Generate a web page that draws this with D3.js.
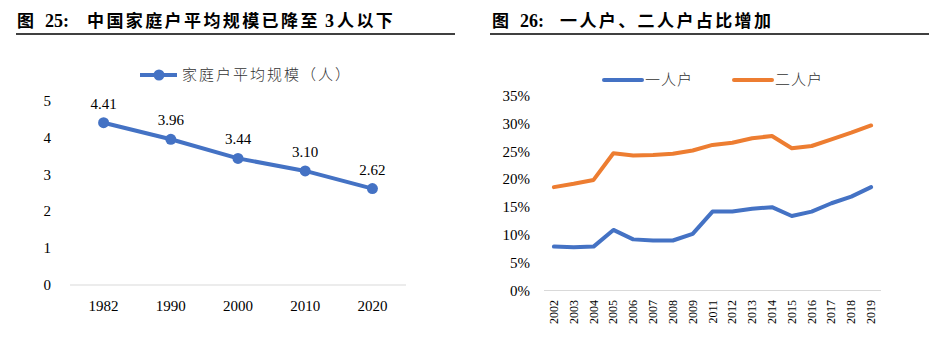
<!DOCTYPE html>
<html><head><meta charset="utf-8">
<script src="https://cdn.jsdelivr.net/npm/d3@7"></script>
<style>
body{margin:0;background:#fff;}
svg{display:block;}
</style></head>
<body>
<svg id="c" width="937" height="341"></svg>
<script>
// Left chart data
const leftYears = ["1982","1990","2000","2010","2020"];
const householdSize = [4.41, 3.96, 3.44, 3.10, 2.62];
const leftTicks = [0,1,2,3,4,5];
// Right chart data
const rightYears = ["2002","2003","2004","2005","2006","2007","2008","2009","2011","2012","2013","2014","2015","2016","2017","2018","2019"];
const onePerson = [7.9,7.8,7.9,10.9,9.2,9.0,9.0,10.2,14.2,14.2,14.7,15.0,13.4,14.2,15.7,16.9,18.6];
const twoPerson = [18.6,19.2,19.9,24.7,24.3,24.4,24.6,25.2,26.2,26.6,27.4,27.8,25.6,26.0,27.2,28.4,29.7];
const rightTicks = [0,5,10,15,20,25,30,35];

const svg = d3.select("#c");
const serif = "'Liberation Serif','Times New Roman',serif";
const cjk = "'Noto Sans CJK SC',sans-serif";
const blue = "#4472C4", orange = "#ED7D31";

// Titles: parts = [text, x, isSerif]
function title(x1, x2, parts){
  parts.forEach(p => {
    svg.append("text").attr("x", p[1]).attr("y", 27).attr("font-weight","bold").attr("fill","#000")
      .attr("font-family", p[2] ? serif : cjk).attr("font-size", p[2] ? 18 : 17)
      .attr("letter-spacing", p[2] ? 0 : 2.4).text(p[0]);
  });
  svg.append("line").attr("x1", x1).attr("x2", x2).attr("y1", 34).attr("y2", 34).attr("stroke","#000").attr("stroke-width",1.3);
}
title(16, 455, [["图",17,0],["25:",45,1],["中国家庭户平均规模已降至",87,0],["3",325,1],["人以下",337,0]]);
title(490, 929, [["图",492,0],["26:",520,1],["一人户、二人户占比增加",560,0]]);

// LEFT CHART
const lx = d3.scaleBand().domain(leftYears).range([70, 406]);
const ly = d3.scaleLinear().domain([0,5]).range([285, 101]);
const lg = svg.append("g");
lg.append("line").attr("x1",70).attr("x2",406).attr("y1",ly(0)).attr("y2",ly(0)).attr("stroke","#d9d9d9").attr("stroke-width",1);
lg.selectAll(".yt").data(leftTicks).join("text").attr("x",51).attr("y",d=>ly(d)+5).attr("text-anchor","end")
  .attr("font-family",serif).attr("font-size",15).text(d=>d);
lg.selectAll(".xt").data(leftYears).join("text").attr("x",d=>lx(d)+lx.bandwidth()/2).attr("y",311).attr("text-anchor","middle")
  .attr("font-family",serif).attr("font-size",15).text(d=>d);
const lline = d3.line().x((d,i)=>lx(leftYears[i])+lx.bandwidth()/2).y(d=>ly(d));
lg.append("path").datum(householdSize).attr("d",lline).attr("fill","none").attr("stroke",blue).attr("stroke-width",4).attr("stroke-linejoin","round");
lg.selectAll(".pt").data(householdSize).join("circle").attr("cx",(d,i)=>lx(leftYears[i])+lx.bandwidth()/2).attr("cy",d=>ly(d)).attr("r",5.5).attr("fill",blue);
lg.selectAll(".lb").data(householdSize).join("text").attr("x",(d,i)=>lx(leftYears[i])+lx.bandwidth()/2).attr("y",d=>ly(d)-14)
  .attr("text-anchor","middle").attr("font-family",serif).attr("font-size",15).text(d=>d.toFixed(2));
// legend
lg.append("line").attr("x1",140).attr("x2",177).attr("y1",75).attr("y2",75).attr("stroke",blue).attr("stroke-width",4);
lg.append("circle").attr("cx",159).attr("cy",75).attr("r",5.5).attr("fill",blue);
lg.append("text").attr("x",182).attr("y",80).attr("font-family",cjk).attr("font-size",15).attr("font-weight",300).attr("letter-spacing",2).attr("fill","#333").text("家庭户平均规模（人）");

// RIGHT CHART
const rx = d3.scaleBand().domain(rightYears).range([544, 881]);
const ry = d3.scaleLinear().domain([0,35]).range([290.5, 96]);
const rg = svg.append("g");
rg.append("line").attr("x1",544).attr("x2",881).attr("y1",ry(0)).attr("y2",ry(0)).attr("stroke","#d9d9d9").attr("stroke-width",1);
rg.selectAll(".yt").data(rightTicks).join("text").attr("x",530).attr("y",d=>ry(d)+5).attr("text-anchor","end")
  .attr("font-family",serif).attr("font-size",15).text(d=>d+"%");
rg.selectAll(".xt").data(rightYears).join("text")
  .attr("transform",d=>`translate(${rx(d)+rx.bandwidth()/2+4},300) rotate(-90)`).attr("text-anchor","end")
  .attr("font-family",serif).attr("font-size",12).text(d=>d);
const rline = d3.line().x((d,i)=>rx(rightYears[i])+rx.bandwidth()/2).y(d=>ry(d));
rg.append("path").datum(onePerson).attr("d",rline).attr("fill","none").attr("stroke",blue).attr("stroke-width",4).attr("stroke-linejoin","round").attr("stroke-linecap","round");
rg.append("path").datum(twoPerson).attr("d",rline).attr("fill","none").attr("stroke",orange).attr("stroke-width",4).attr("stroke-linejoin","round").attr("stroke-linecap","round");
// legend
rg.append("line").attr("x1",604).attr("x2",642).attr("y1",80).attr("y2",80).attr("stroke",blue).attr("stroke-width",4).attr("stroke-linecap","round");
rg.append("text").attr("x",645).attr("y",85).attr("font-family",cjk).attr("font-size",15).attr("font-weight",300).attr("letter-spacing",1).attr("fill","#333").text("一人户");
rg.append("line").attr("x1",734).attr("x2",772).attr("y1",80).attr("y2",80).attr("stroke",orange).attr("stroke-width",4).attr("stroke-linecap","round");
rg.append("text").attr("x",775).attr("y",85).attr("font-family",cjk).attr("font-size",15).attr("font-weight",300).attr("letter-spacing",1).attr("fill","#333").text("二人户");
</script>
</body></html>
